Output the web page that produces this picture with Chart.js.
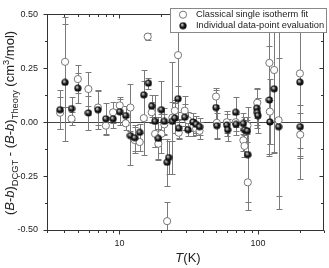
<!DOCTYPE html>
<html>
<head>
<meta charset="utf-8">
<script src="https://cdn.jsdelivr.net/npm/chart.js@4"></script>
<style>
html, body { margin: 0; padding: 0; background: #fff; }
#wrap { width: 329px; height: 268px; position: relative; }
</style>
</head>
<body>
<div id="wrap"><canvas id="myChart"></canvas></div>
<script>
// Classical single isotherm fit (open circles): T in K, value and error in cm3/mol
const classicalT   = [3.73, 4.05, 4.51, 5.01, 5.97, 7.0, 7.98, 9.0, 10.05, 11.1, 12.0, 12.9, 14.0, 15.0, 16.0, 17.1, 18.1, 19.1, 20.1, 21.1, 22.1, 24.1, 25.1, 26.5, 26.8, 29.6, 31.3, 34.0, 35.8, 37.9, 49.8, 50.5, 59.6, 69.1, 78.5, 80, 84, 84.5, 98.9, 121, 122, 131, 141, 201, 202]
const classicalB   = [0.044, 0.28, 0.016, 0.20, 0.154, 0.068, -0.016, 0.046, 0.078, -0.005, 0.068, -0.083, -0.092, 0.019, 0.397, 0.046, -0.054, -0.10, -0.054, -0.01, -0.459, 0.021, 0.053, 0.311, -0.049, 0.053, 0.009, -0.025, -0.03, -0.04, 0.119, -0.003, 0.0, 0.0, -0.084, -0.11, -0.016, -0.279, 0.09, 0.275, 0.049, 0.242, 0.009, 0.226, -0.058]
const classicalErr = [0.075, 0.21, 0.03, 0.065, 0.08, 0.08, 0.04, 0.05, 0.04, 0.03, 0.11, 0.06, 0.04, 0.17, 0.015, 0.05, 0.06, 0.07, 0.09, 0.05, 0.09, 0.26, 0.05, 0.3, 0.03, 0.07, 0.04, 0.04, 0.03, 0.04, 0.04, 0.07, 0.05, 0.04, 0.05, 0.05, 0.04, 0.128, 0.07, 0.43, 0.15, 0.38, 0.41, 0.49, 0.1]

// Individual data-point evaluation (filled circles)
const individualT   = [3.73, 4.05, 4.51, 5.01, 5.97, 7.0, 7.98, 9.0, 10.05, 11.1, 12.0, 12.9, 14.0, 15.0, 16.2, 17.1, 18.1, 19.1, 20.1, 21.1, 22.1, 22.7, 24.1, 25.1, 26.5, 26.8, 29.6, 31.3, 34.0, 35.8, 37.9, 49.8, 50.5, 59.6, 60.5, 69.1, 69.5, 78.5, 80, 84, 84.5, 98, 99, 100, 121, 122, 131, 141, 201, 202]
const individualB   = [0.058, 0.185, 0.063, 0.158, 0.043, 0.058, 0.016, 0.016, 0.049, 0.031, -0.062, -0.072, -0.047, 0.127, 0.181, 0.075, 0.004, -0.075, 0.058, 0.004, -0.186, -0.164, 0.004, 0.019, 0.109, -0.028, 0.023, -0.035, 0.001, -0.01, -0.021, 0.068, -0.016, -0.013, -0.035, 0.046, -0.01, -0.006, -0.035, -0.04, -0.15, 0.065, 0.045, 0.031, 0.103, 0.001, 0.155, -0.021, 0.186, -0.021]
const individualErr = [0.09, 0.27, 0.055, 0.07, 0.08, 0.088, 0.075, 0.045, 0.06, 0.045, 0.135, 0.06, 0.04, 0.115, 0.025, 0.05, 0.12, 0.1, 0.135, 0.06, 0.11, 0.075, 0.09, 0.07, 0.06, 0.045, 0.06, 0.03, 0.04, 0.04, 0.04, 0.08, 0.06, 0.05, 0.05, 0.07, 0.05, 0.05, 0.06, 0.05, 0.22, 0.09, 0.06, 0.08, 0.25, 0.1, 0.3, 0.32, 0.35, 0.1]

const seriesNames = ['Classical single isotherm fit', 'Individual data-point evaluation']
const yTicks = [-0.5, -0.25, 0, 0.25, 0.5]
const yMinorTicks = [-0.375, -0.125, 0.125, 0.375]
const xTickLabels = [10, 100]
const xMinorTicks = [3, 4, 5, 6, 7, 8, 9, 20, 30, 40, 50, 60, 70, 80, 90, 200, 300]

const FONT = '"Liberation Sans", Arial, sans-serif'

function toPoints(ts, vs, es) {
    return ts.map((t, i) => ({ x: t, y: vs[i], err: es[i] }))
}

// black ball with a small highlight, used as the filled marker
function ballImage() {
    const c = document.createElement('canvas')
    c.width = c.height = 8
    const g = c.getContext('2d')
    const grad = g.createRadialGradient(2.9, 2.8, 0.1, 4, 4, 3.8)
    grad.addColorStop(0, '#ffffff')
    grad.addColorStop(0.28, '#777')
    grad.addColorStop(0.55, '#1a1a1a')
    grad.addColorStop(1, '#000')
    g.fillStyle = grad
    g.beginPath()
    g.arc(4, 4, 3.6, 0, Math.PI * 2)
    g.fill()
    return c
}
const ball = ballImage()

const errorBars = {
    id: 'errorBars',
    beforeDatasetsDraw(chart) {
        const { ctx, chartArea: a, scales: { x, y } } = chart
        ctx.save()
        ctx.beginPath()
        ctx.rect(a.left, a.top, a.right - a.left, a.bottom - a.top)
        ctx.clip()
        ctx.strokeStyle = '#7a7a7a'
        ctx.lineWidth = 1
        chart.data.datasets.forEach(ds => ds.data.forEach(p => {
            const px = Math.round(x.getPixelForValue(p.x)) + 0.5
            const y1 = Math.round(y.getPixelForValue(p.y + p.err)) + 0.5
            const y2 = Math.round(y.getPixelForValue(p.y - p.err)) + 0.5
            ctx.beginPath()
            ctx.moveTo(px, y1); ctx.lineTo(px, y2)
            ctx.moveTo(px - 3, y1); ctx.lineTo(px + 3, y1)
            ctx.moveTo(px - 3, y2); ctx.lineTo(px + 3, y2)
            ctx.stroke()
        }))
        ctx.restore()
    }
}

// frame with ticks, outward on left/bottom and inward on top/right
const frame = {
    id: 'frame',
    afterDraw(chart) {
        const { ctx, chartArea: a, scales: { x, y } } = chart
        ctx.save()
        ctx.strokeStyle = '#333'
        ctx.lineWidth = 1
        const L = Math.round(a.left) + 0.5, R = Math.round(a.right) - 0.5
        const T = Math.round(a.top) + 0.5, B = Math.round(a.bottom) + 0.5
        ctx.strokeRect(L, T, R - L, B - T)
        ctx.beginPath()
        const xt = (v, len) => {
            const px = Math.round(x.getPixelForValue(v)) + 0.5
            ctx.moveTo(px, B); ctx.lineTo(px, B + len)
            ctx.moveTo(px, T); ctx.lineTo(px, T + len)
        }
        const yt = (v, len) => {
            const py = Math.round(y.getPixelForValue(v)) + 0.5
            ctx.moveTo(L, py); ctx.lineTo(L - len, py)
            ctx.moveTo(R, py); ctx.lineTo(R - len, py)
        }
        xTickLabels.forEach(v => xt(v, 4))
        xMinorTicks.forEach(v => xt(v, 2.5))
        yTicks.forEach(v => yt(v, 4))
        yMinorTicks.forEach(v => yt(v, 2.5))
        ctx.stroke()

        // legend box
        ctx.fillStyle = '#fff'
        ctx.fillRect(170.5, 8.5, 156, 24)
        ctx.strokeStyle = '#888'
        ctx.strokeRect(170.5, 8.5, 156, 24)
        ctx.beginPath()
        ctx.arc(183, 14.7, 3.6, 0, Math.PI * 2)
        ctx.strokeStyle = '#777'
        ctx.stroke()
        ctx.drawImage(ball, 183 - 4, 25.7 - 4)
        ctx.fillStyle = '#222'
        ctx.font = '9.3px ' + FONT
        ctx.textBaseline = 'middle'
        ctx.textAlign = 'left'
        ctx.fillText(seriesNames[0], 196, 14.8)
        ctx.fillText(seriesNames[1], 196, 25.8)

        // x title
        ctx.textBaseline = 'alphabetic'
        drawRich(ctx, [{ t: 'T', it: true }, { t: '(K)' }], 188, 262, 13)
        // y title
        ctx.save()
        ctx.translate(14, 123)
        ctx.rotate(-Math.PI / 2)
        drawRich(ctx, [
            { t: '(' }, { t: 'B', it: true }, { t: '-' }, { t: 'b', it: true }, { t: ')' },
            { t: 'DCGT', sub: true }, { t: ' - (' }, { t: 'B', it: true }, { t: '-' }, { t: 'b', it: true }, { t: ')' },
            { t: 'Theory', sub: true }, { t: ' (cm' }, { t: '3', sup: true }, { t: '/mol)' }
        ], 0, 0, 13)
        ctx.restore()
        ctx.restore()
    }
}

function drawRich(ctx, parts, cx, baseline, size) {
    const fontOf = p => {
        const s = p.sub || p.sup ? size * 0.72 : size
        return (p.it ? 'italic ' : '') + s + 'px ' + FONT
    }
    let total = 0
    parts.forEach(p => { ctx.font = fontOf(p); p.w = ctx.measureText(p.t).width; total += p.w })
    let xx = cx - total / 2
    ctx.textAlign = 'left'
    ctx.fillStyle = '#222'
    parts.forEach(p => {
        ctx.font = fontOf(p)
        const dy = p.sub ? size * 0.28 : p.sup ? -size * 0.4 : 0
        ctx.fillText(p.t, xx, baseline + dy)
        xx += p.w
    })
}

const ctx = document.getElementById('myChart')
new Chart(ctx, {
    type: 'scatter',
    data: {
        datasets: [{
            label: seriesNames[0],
            data: toPoints(classicalT, classicalB, classicalErr),
            pointStyle: 'circle',
            pointRadius: 3.6,
            backgroundColor: '#fff',
            borderColor: '#777',
            borderWidth: 1,
            order: 2
        }, {
            label: seriesNames[1],
            data: toPoints(individualT, individualB, individualErr),
            pointStyle: ball,
            order: 1
        }]
    },
    options: {
        responsive: true,
        maintainAspectRatio: false,
        animation: false,
        layout: { padding: { top: 4, right: 1, left: 0, bottom: 0 } },
        plugins: { legend: { display: false }, tooltip: { enabled: false } },
        scales: {
            x: {
                type: 'logarithmic',
                min: 3,
                max: 300,
                afterFit: s => { s.height = 38 },
                grid: { display: false },
                border: { display: false },
                ticks: {
                    autoSkip: false,
                    maxRotation: 0,
                    padding: 0,
                    color: '#222',
                    font: { family: FONT, size: 9 },
                    callback: v => xTickLabels.includes(v) ? String(v) : ''
                }
            },
            y: {
                min: -0.5,
                max: 0.5,
                afterFit: s => { s.width = 47 },
                afterBuildTicks: s => { s.ticks = yTicks.map(v => ({ value: v })) },
                grid: {
                    drawTicks: false,
                    color: c => c.tick && c.tick.value === 0 ? '#444' : 'rgba(0,0,0,0)'
                },
                border: { display: false },
                ticks: {
                    padding: 9,
                    color: '#222',
                    font: { family: FONT, size: 9 },
                    callback: v => v.toFixed(2)
                }
            }
        }
    },
    plugins: [errorBars, frame]
})
</script>
</body>
</html>
